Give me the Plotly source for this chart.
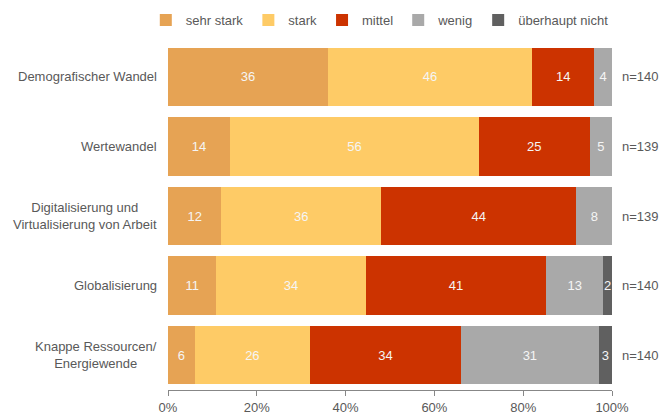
import plotly.graph_objects as go

categories = ["Demografischer Wandel", "Wertewandel",
              "Digitalisierung und<br>Virtualisierung von Arbeit",
              "Globalisierung", "Knappe Ressourcen/<br>Energiewende"]
series_names = ["sehr stark", "stark", "mittel", "wenig", "überhaupt nicht"]
sehr_stark = [36, 14, 12, 11, 6]
stark = [46, 56, 36, 34, 26]
mittel = [14, 25, 44, 41, 34]
wenig = [4, 5, 8, 13, 31]
ueberhaupt_nicht = [0, 0, 0, 2, 3]
n_labels = ["n=140", "n=139", "n=139", "n=140", "n=140"]
colors = ["#E6A354", "#FECB66", "#CC3300", "#A9A9A9", "#606060"]
tick_vals = [0, 20, 40, 60, 80, 100]
tick_text = ["0%", "20%", "40%", "60%", "80%", "100%"]

series = [sehr_stark, stark, mittel, wenig, ueberhaupt_nicht]
FONT = "Liberation Sans, Arial, sans-serif"

fig = go.Figure()
for name, vals, col in zip(series_names, series, colors):
    fig.add_trace(go.Bar(
        y=categories, x=vals, name=name, orientation="h",
        marker=dict(color=col, line=dict(width=0)),
        text=[str(v) if v else "" for v in vals],
        texttemplate="%{text}",
        textposition="inside", insidetextanchor="middle", textangle=0,
        constraintext="none",
        textfont=dict(color="#F5F5F5", size=13, family=FONT),
        hoverinfo="skip",
    ))

for cat, lab in zip(categories, n_labels):
    fig.add_annotation(x=1.0, xref="paper", xshift=8, y=cat, yref="y",
                       text=lab, showarrow=False, xanchor="left",
                       font=dict(size=13, color="#595959", family=FONT))
    fig.add_annotation(x=0, xref="paper", xshift=-9, y=cat, yref="y",
                       text=cat, showarrow=False, xanchor="right", align="center",
                       font=dict(size=13, color="#595959", family=FONT))

fig.update_layout(
    barmode="stack", barnorm="percent", bargap=0.16,
    width=662, height=414,
    margin=dict(l=168, r=50, t=42, b=24, autoexpand=False),
    paper_bgcolor="white", plot_bgcolor="white",
    font=dict(family=FONT, size=13, color="#595959"),
    legend=dict(orientation="h", xref="paper", x=-0.05, xanchor="left",
                yref="paper", y=1.063, yanchor="middle",
                font=dict(size=13, color="#595959"), traceorder="normal",
                itemwidth=30, tracegroupgap=0),
    xaxis=dict(range=[0, 100], tickvals=tick_vals, ticktext=tick_text,
               showgrid=False, zeroline=False, showline=True, linecolor="#878787",
               ticks="outside", ticklen=5, tickcolor="#878787", automargin=False,
               tickfont=dict(size=13, color="#595959")),
    yaxis=dict(autorange="reversed", showticklabels=False, showgrid=False,
               zeroline=False, showline=False, ticks="", automargin=False),
    showlegend=True,
)

fig.write_html("out.html", config={"displayModeBar": False},
               post_script="document.body.style.margin='0';")
